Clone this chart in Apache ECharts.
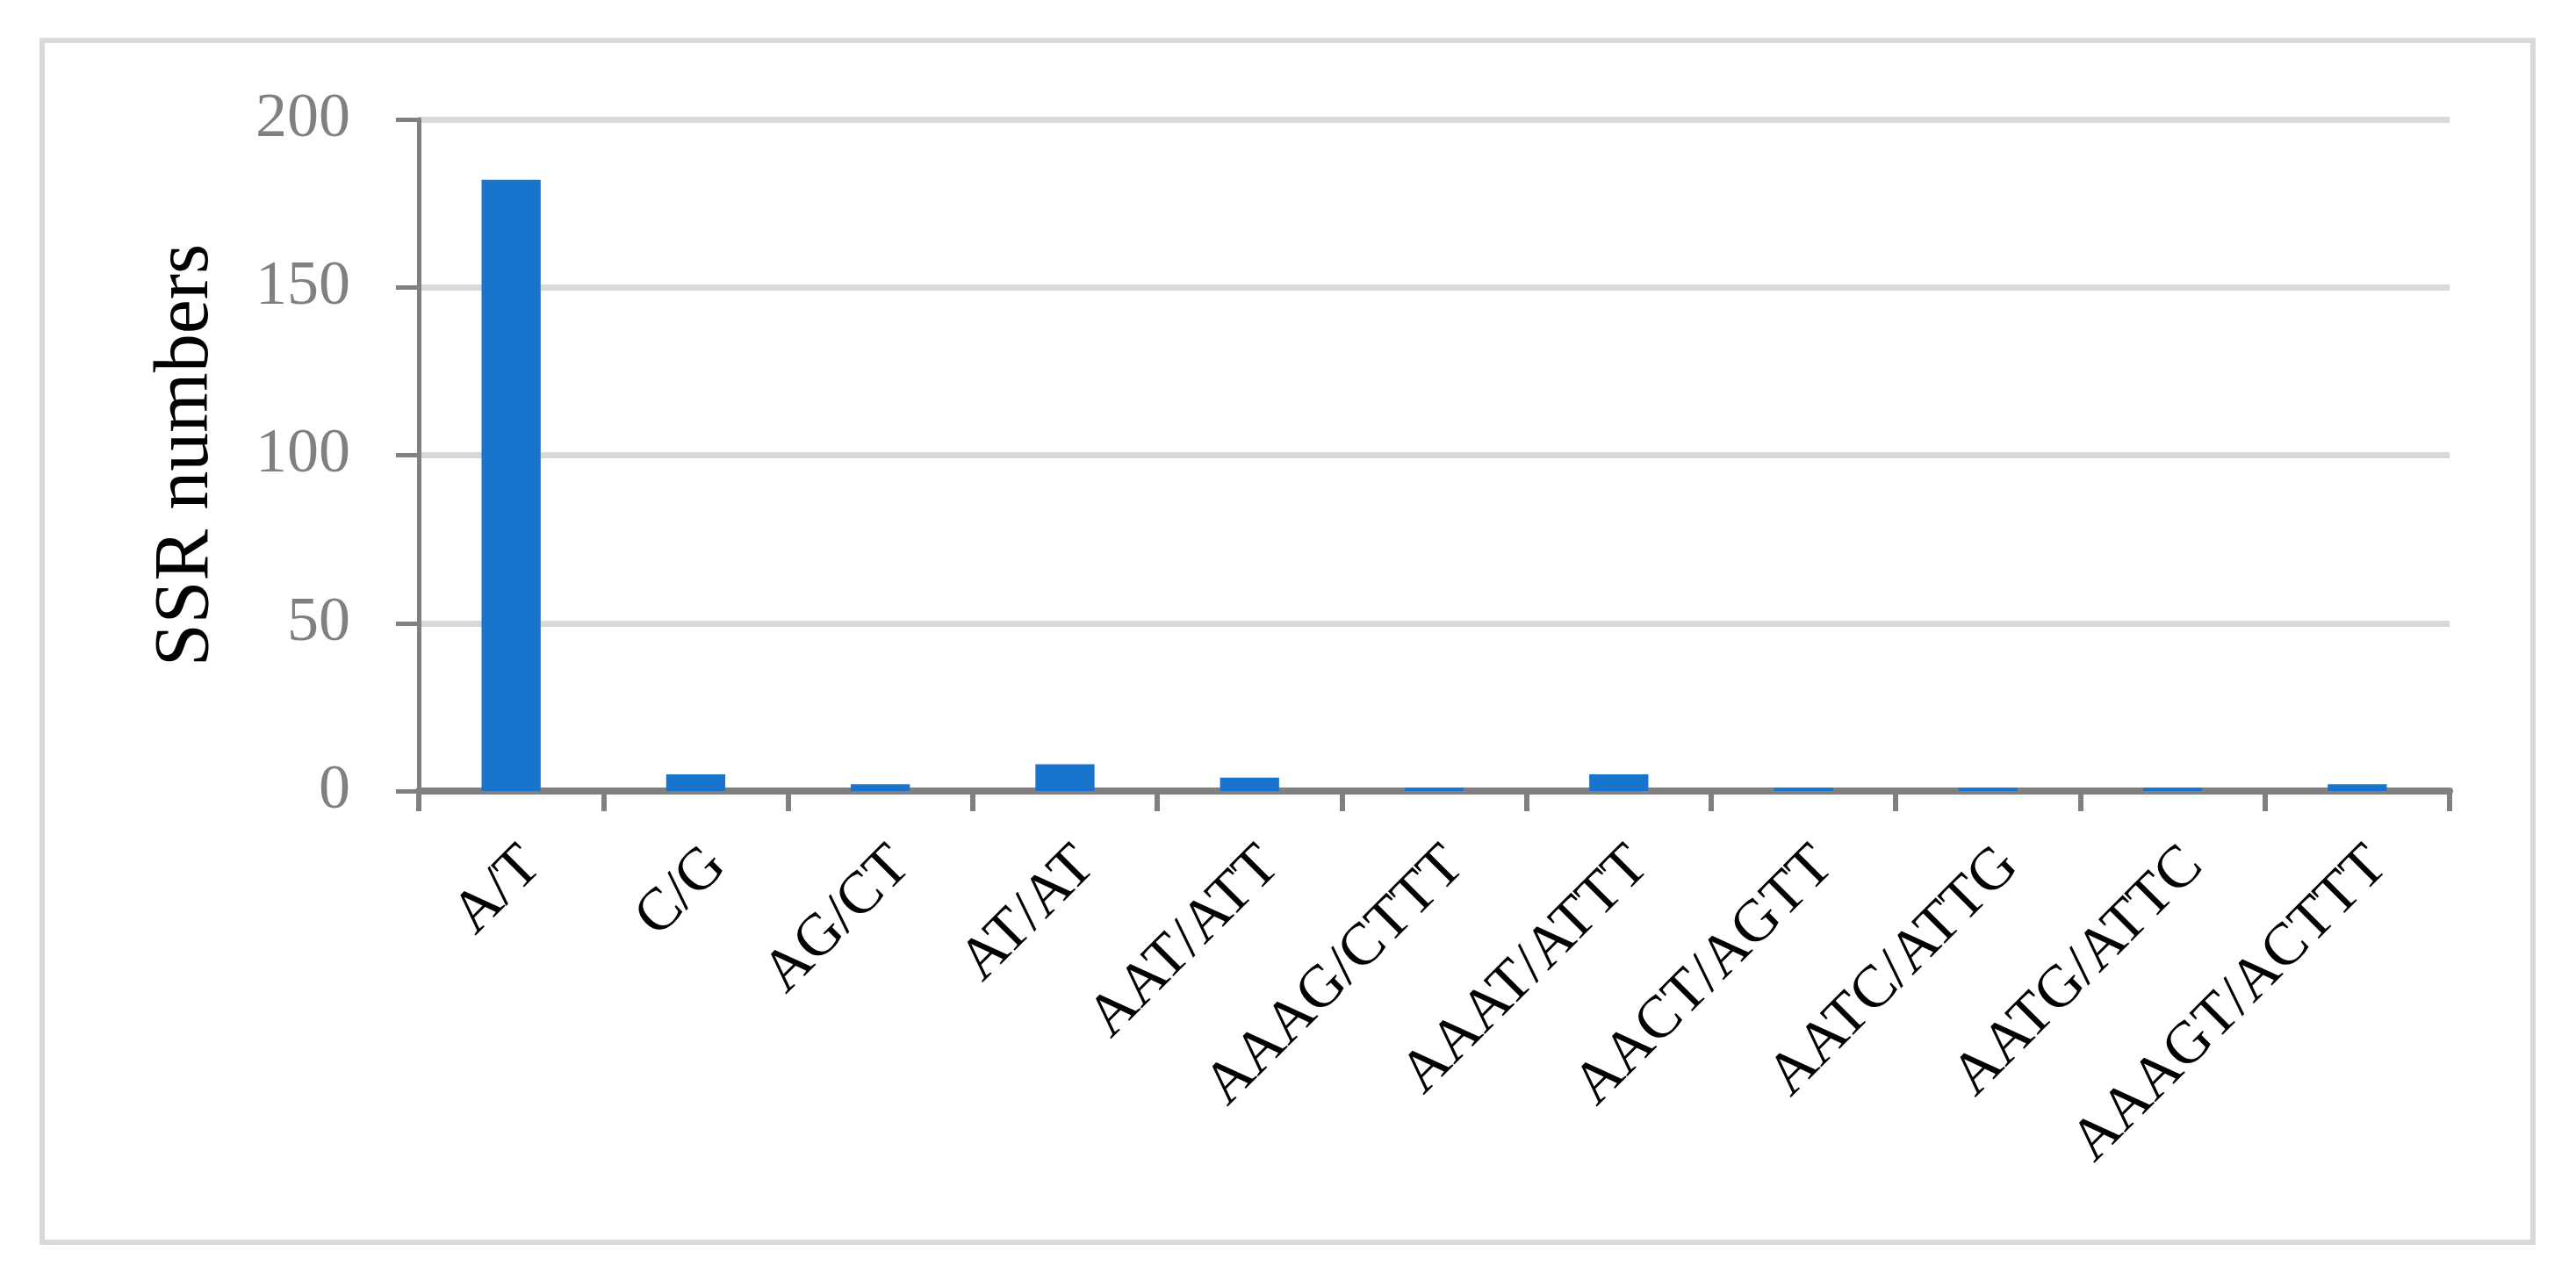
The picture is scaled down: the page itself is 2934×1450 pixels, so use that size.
<!DOCTYPE html>
<html>
<head>
<meta charset="utf-8">
<script src="https://cdn.jsdelivr.net/npm/echarts@6/dist/echarts.min.js"></script>
<style>
html,body{margin:0;padding:0;background:#fff;}
#chart{width:2934px;height:1450px;}
</style>
</head>
<body>
<div id="chart"></div>
<script>
const categories = ['A/T','C/G','AG/CT','AT/AT','AAT/ATT','AAAG/CTTT','AAAT/ATTT','AACT/AGTT','AATC/ATTG','AATG/ATTC','AAAGT/ACTTT'];
const ssrCounts = [182, 5, 2, 8, 4, 1, 5, 1, 1, 1, 2];
const yTicks = [0, 50, 100, 150, 200];
const yTitle = 'SSR numbers';

const chart = echarts.init(document.getElementById('chart'), null, {renderer:'canvas'});
chart.setOption({
  backgroundColor:'#ffffff',
  animation:false,
  graphic:[{
    type:'rect', left:45, top:43,
    shape:{width:2837, height:1369},
    style:{fill:'none', stroke:'#d9d9d9', lineWidth:6}
  }],
  grid:{left:477, right:144, top:136, bottom:549, containLabel:false},
  xAxis:{
    type:'category',
    data:categories,
    boundaryGap:true,
    axisLine:{show:true, lineStyle:{color:'#808080', width:8}},
    axisTick:{show:true, length:23, lineStyle:{color:'#808080', width:6}},
    axisLabel:{
      rotate:45, interval:0, margin:51, verticalAlign:'top',
      fontFamily:'Liberation Serif', fontSize:68, color:'#000000'
    },
    splitLine:{show:false}
  },
  yAxis:{
    type:'value',
    min:yTicks[0], max:yTicks[yTicks.length-1], interval:50,
    name:yTitle,
    nameLocation:'middle',
    nameGap:220,
    nameTextStyle:{fontFamily:'Liberation Serif', fontSize:88, color:'#000000'},
    axisLine:{show:true, lineStyle:{color:'#808080', width:5}},
    axisTick:{show:true, length:26, lineStyle:{color:'#808080', width:5}},
    axisLabel:{margin:78, fontFamily:'Liberation Serif', fontSize:72, color:'#808080'},
    splitLine:{show:true, lineStyle:{color:'#d9d9d9', width:7}}
  },
  series:[{
    type:'bar',
    data:ssrCounts,
    barCategoryGap:'68%',
    itemStyle:{color:'#1874cd'}
  }]
});
</script>
</body>
</html>
